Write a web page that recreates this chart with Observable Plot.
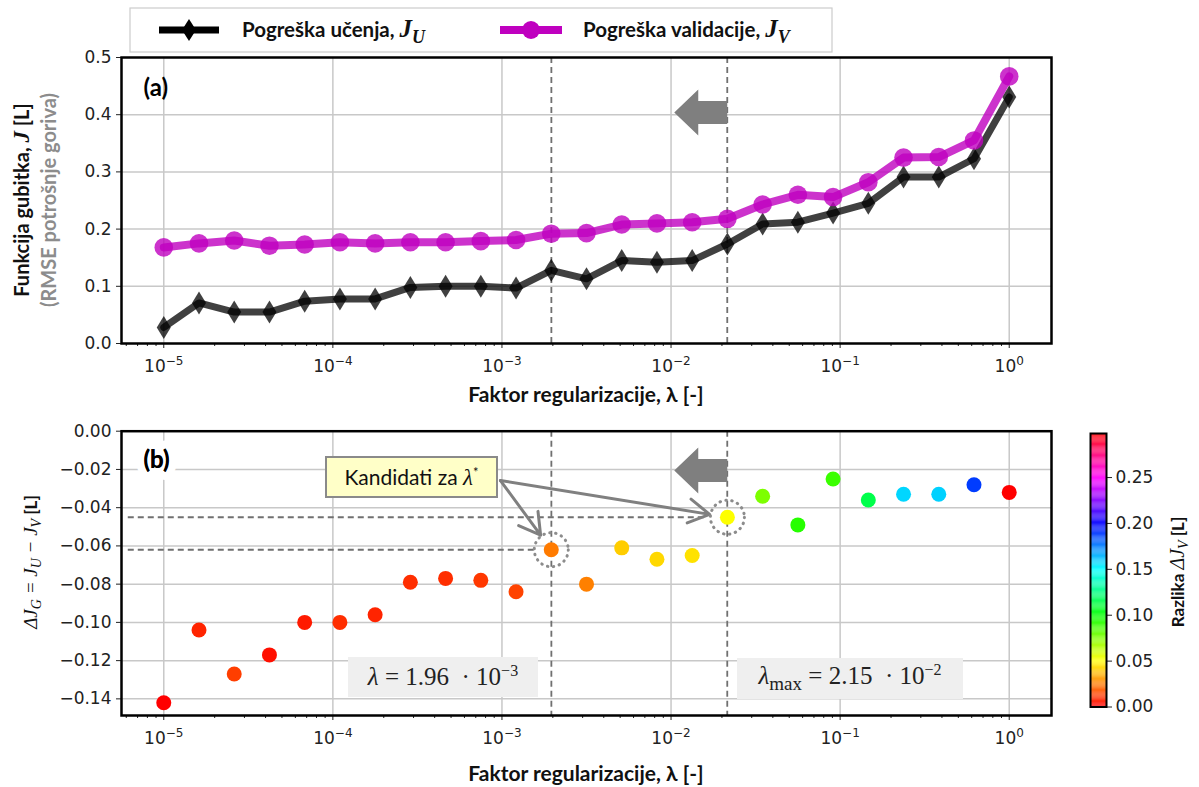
<!DOCTYPE html>
<html><head><meta charset="utf-8">
<script src="https://cdn.jsdelivr.net/npm/d3@7"></script>
<script src="https://cdn.jsdelivr.net/npm/@observablehq/plot@0.6"></script>
<style>
body{margin:0;background:#fff;}
#root{position:relative;width:1199px;height:787px;overflow:hidden;font-family:Lato,sans-serif;}
#root > *{position:absolute;}
.box{display:flex;align-items:center;justify-content:center;box-sizing:border-box;white-space:nowrap;}
.math{font-family:"Liberation Serif",serif;font-style:italic;}
</style></head><body><div id="root"></div>
<script>
// ---- data ----
const lambdas = [1.00e-5,1.6156e-5,2.6102e-5,4.2170e-5,6.8129e-5,1.1007e-4,1.7783e-4,2.8730e-4,4.6416e-4,7.4989e-4,
  1.2115e-3,1.9573e-3,3.1623e-3,5.1090e-3,8.2540e-3,1.3335e-2,2.1544e-2,3.4807e-2,5.6234e-2,9.0851e-2,
  1.4678e-1,2.3714e-1,3.8312e-1,6.1897e-1,1.0];
const jU = [0.028,0.071,0.055,0.055,0.074,0.078,0.078,0.098,0.100,0.100,0.097,0.128,0.113,0.145,0.142,0.145,
  0.174,0.209,0.212,0.228,0.245,0.291,0.291,0.323,0.431];
const jV = [0.168,0.175,0.180,0.171,0.173,0.177,0.175,0.177,0.177,0.179,0.181,0.192,0.193,0.208,0.210,0.212,
  0.218,0.243,0.260,0.256,0.282,0.325,0.326,0.355,0.467];
const dJG = [-0.142,-0.104,-0.127,-0.117,-0.100,-0.100,-0.096,-0.079,-0.077,-0.078,-0.084,-0.062,-0.080,-0.061,
  -0.067,-0.065,-0.045,-0.034,-0.049,-0.025,-0.036,-0.033,-0.033,-0.028,-0.032];
const dJV = [0.000,0.007,0.012,0.003,0.005,0.009,0.007,0.009,0.009,0.011,0.013,0.024,0.025,0.040,0.042,0.044,
  0.050,0.075,0.092,0.088,0.114,0.157,0.158,0.187,0.298];
const candidateIdx = [11, 16];
const candidateLambdas = [1.96e-3, 2.15e-2];
const decades = [1e-5,1e-4,1e-3,1e-2,1e-1,1];
const yTicksA = [0,0.1,0.2,0.3,0.4,0.5];
const yTicksB = [0,-0.02,-0.04,-0.06,-0.08,-0.10,-0.12,-0.14];
const cbTicks = [0,0.05,0.10,0.15,0.20,0.25];
const bigArrowA = [{x:2.15e-2, y:0.404}];
const bigArrowB = [{x:2.15e-2, y:-0.0206}];
const calloutFrom = {x:9.8e-4, y:-0.0258};
const guideStart = 10**-5.21;
const guideEnds = [1.58e-3, 1.6e-2];

// ---- helpers ----
const rows = lambdas.map((l,i)=>({lambda:l, jU:jU[i], jV:jV[i], dJG:dJG[i], dJV:dJV[i]}));
const cand = candidateIdx.map(i=>rows[i]);
const guides = candidateIdx.map((i,k)=>({y:dJG[i], x1:guideStart, x2:guideEnds[k]}));
const callouts = cand.map(r=>({x1:calloutFrom.x, y1:calloutFrom.y, x2:r.lambda, y2:r.dJG}));
const xDomain = [10**-5.25, 10**0.25];
const minorTicks = d3.scaleLog().domain(xDomain).ticks().filter(t=>!decades.some(d=>Math.abs(d-t)/d<1e-9));
const fmtPow = d => "10^" + Math.round(Math.log10(d));
const thinDiamond = {draw(ctx,size){const s=Math.sqrt(size/Math.PI);ctx.moveTo(0,-11.5*s);ctx.lineTo(7*s,0);ctx.lineTo(0,11.5*s);ctx.lineTo(-7*s,0);ctx.closePath();}};
const leftArrow = {draw(ctx,size){const s=Math.sqrt(size/Math.PI);ctx.moveTo(0,-11.5*s);ctx.lineTo(-29*s,-11.5*s);ctx.lineTo(-29*s,-23*s);ctx.lineTo(-53*s,0);ctx.lineTo(-29*s,23*s);ctx.lineTo(-29*s,11.5*s);ctx.lineTo(0,11.5*s);ctx.closePath();}};
const hsv = t => d3.hsl(t*360,1,0.5).formatHex();
const gridStyle = {stroke:"#c8c8c8", strokeOpacity:1, strokeWidth:1.5};
const baseStyle = {fontFamily:"DejaVu Sans", fontSize:"17px", color:"#222", background:"transparent", overflow:"visible"};
const root = document.getElementById("root");
function place(el,left,top){el.style.left=left+"px";el.style.top=top+"px";root.appendChild(el);return el;}
function superscriptTicks(svg){
  d3.select(svg).selectAll('g[aria-label="x-axis tick label"] text').each(function(){
    const s = this.textContent; if (!s.includes("^")) return;
    const [b,e] = s.split("^");
    const t = d3.select(this); t.text(b);
    t.append("tspan").attr("dy","-0.55em").attr("font-size",12).text(e.replace("-","−"));
  });
}

// ---- panel (a) ----
const plotA = Plot.plot({
  width:1199, height:410, marginLeft:121, marginRight:148, marginTop:57, marginBottom:67,
  style:baseStyle,
  x:{type:"log", domain:xDomain},
  y:{domain:[0,0.5]},
  marks:[
    Plot.gridX(decades, gridStyle),
    Plot.gridY([0.1,0.2,0.3,0.4], gridStyle),
    Plot.ruleX(candidateLambdas, {stroke:"#707070", strokeWidth:1.8, strokeDasharray:"6,4"}),
    Plot.line(rows, {x:"lambda", y:"jU", stroke:"black", strokeOpacity:0.75, strokeWidth:7}),
    Plot.dot(rows, {x:"lambda", y:"jU", symbol:thinDiamond, r:1, fill:"black", fillOpacity:0.75}),
    Plot.line(rows, {x:"lambda", y:"jV", stroke:"#bf00bf", strokeOpacity:0.8, strokeWidth:8}),
    Plot.dot(rows, {x:"lambda", y:"jV", r:9.3, fill:"#bf00bf", fillOpacity:0.8}),
    Plot.dot(bigArrowA, {x:"x", y:"y", symbol:leftArrow, r:1, fill:"#7f7f7f"}),
    Plot.axisX(minorTicks, {tickSize:3, tickFormat:()=>"", label:null}),
    Plot.axisX(decades, {tickSize:5, tickPadding:11, tickFormat:fmtPow, label:null}),
    Plot.axisY(yTicksA, {tickSize:5, tickPadding:5, tickFormat:d3.format(".1f"), label:null}),
    Plot.text(["(a)"], {frameAnchor:"top-left", dx:22, dy:21, fontWeight:"bold", fontSize:24, fontFamily:"Lato", fill:"black"}),
    Plot.frame({stroke:"black", strokeWidth:2.5})
  ]
});
superscriptTicks(plotA);
place(plotA,0,0);

// ---- panel (b) ----
const plotB = Plot.plot({
  width:1199, height:377, marginLeft:121, marginRight:148, marginTop:20.7, marginBottom:72,
  style:baseStyle,
  x:{type:"log", domain:xDomain},
  y:{domain:[-0.1487,0]},
  color:{type:"linear", domain:[0,0.298], interpolate:hsv, clamp:true},
  marks:[
    Plot.gridX(decades, gridStyle),
    Plot.gridY(yTicksB.slice(1), gridStyle),
    Plot.ruleY(guides, {y:"y", x1:"x1", x2:"x2", stroke:"#707070", strokeWidth:1.8, strokeDasharray:"6,4"}),
    Plot.ruleX(candidateLambdas, {stroke:"#707070", strokeWidth:1.8, strokeDasharray:"6,4"}),
    Plot.arrow(callouts, {x1:"x1", y1:"y1", x2:"x2", y2:"y2", stroke:"#808080", strokeWidth:3, headLength:12, insetEnd:18}),
    Plot.dot(cand, {x:"lambda", y:"dJG", r:17, stroke:"#8c8c8c", strokeWidth:3, strokeDasharray:"0.5,5.5", strokeLinecap:"round", fill:"none"}),
    Plot.dot(rows, {x:"lambda", y:"dJG", r:7.5, fill:"dJV"}),
    Plot.dot(bigArrowB, {x:"x", y:"y", symbol:leftArrow, r:1, fill:"#7f7f7f"}),
    Plot.axisX(minorTicks, {tickSize:3, tickFormat:()=>"", label:null}),
    Plot.axisX(decades, {tickSize:5, tickPadding:11, tickFormat:fmtPow, label:null}),
    Plot.axisY(yTicksB, {tickSize:5, tickPadding:5, tickFormat:d3.format(".2f"), label:null}),
    Plot.text(["(b)"], {frameAnchor:"top-left", dx:22, dy:20, fontWeight:"bold", fontSize:24, fontFamily:"Lato", fill:"black", stroke:"white", strokeWidth:16}),
    Plot.text(["(b)"], {frameAnchor:"top-left", dx:22, dy:20, fontWeight:"bold", fontSize:24, fontFamily:"Lato", fill:"black"}),
    Plot.frame({stroke:"black", strokeWidth:2.5})
  ]
});
superscriptTicks(plotB);
place(plotB,0,410);

// ---- colorbar ----
const bands = d3.range(0,0.298,0.001).map(v=>({a:v, b:Math.min(v+0.001,0.298)}));
const cb = Plot.plot({
  width:139, height:377, marginLeft:30, marginRight:93, marginTop:23, marginBottom:80.5,
  style:baseStyle,
  y:{domain:[0,0.298]},
  color:{type:"linear", domain:[0,0.298], interpolate:hsv},
  marks:[
    Plot.rect(bands, {y1:"a", y2:"b", fill:"a"}),
    Plot.axisY(cbTicks, {anchor:"right", tickSize:5, tickPadding:4, tickFormat:d3.format(".2f"), label:null}),
    Plot.frame({stroke:"black", strokeWidth:2})
  ]
});
place(cb,1060,410);

// ---- text overlay ----
const ov = d3.create("svg").attr("width",1199).attr("height",787).style("pointer-events","none");
// legend
ov.append("rect").attr("x",130).attr("y",8).attr("width",702).attr("height",44).attr("fill","white").attr("stroke","#cccccc").attr("stroke-width",1.2);
ov.append("line").attr("x1",159).attr("x2",219).attr("y1",30).attr("y2",30).attr("stroke","black").attr("stroke-width",7);
ov.append("path").attr("d","M189,19L196,30L189,41L182,30Z").attr("fill","black");
ov.append("line").attr("x1",500).attr("x2",562).attr("y1",30).attr("y2",30).attr("stroke","#bf00bf").attr("stroke-width",8);
ov.append("circle").attr("cx",531).attr("cy",30).attr("r",9).attr("fill","#bf00bf");
function legendText(x, label, sub){
  const t = ov.append("text").attr("x",x).attr("y",37).attr("font-family","Lato").attr("font-weight","bold").attr("font-size",20.5).attr("fill","#111");
  t.append("tspan").text(label);
  t.append("tspan").attr("font-family","Liberation Serif").attr("font-style","italic").attr("font-size",25).text("J");
  t.append("tspan").attr("font-family","Liberation Serif").attr("font-style","italic").attr("font-size",18).attr("dy",6).text(sub);
}
legendText(242,"Pogreška učenja, ","U");
legendText(583,"Pogreška validacije, ","V");
// y label (a)
const ya = ov.append("text").attr("transform","translate(29,200) rotate(-90)").attr("text-anchor","middle").attr("font-family","Lato").attr("font-weight","bold").attr("font-size",20).attr("fill","#111");
ya.append("tspan").text("Funkcija gubitka, ");
ya.append("tspan").attr("font-family","Liberation Serif").attr("font-style","italic").attr("font-size",23).text("J");
ya.append("tspan").text(" [L]");
ov.append("text").attr("transform","translate(56,200) rotate(-90)").attr("text-anchor","middle").attr("font-family","Lato").attr("font-weight","bold").attr("font-size",20).attr("fill","#8c8c8c").text("(RMSE potrošnje goriva)");
// x labels
for (const y of [402,781]) {
  ov.append("text").attr("x",586).attr("y",y).attr("text-anchor","middle").attr("font-family","Lato").attr("font-weight","bold").attr("font-size",21).attr("fill","#111").text("Faktor regularizacije, λ [-]");
}
// y label (b)
const yb = ov.append("text").attr("transform","translate(37,562) rotate(-90)").attr("text-anchor","middle").attr("font-family","Liberation Serif").attr("font-style","italic").attr("font-size",19).attr("fill","#111");
yb.append("tspan").text("ΔJ");
yb.append("tspan").attr("font-size",14).attr("dy",4).text("G");
yb.append("tspan").attr("dy",-4).text(" = J");
yb.append("tspan").attr("font-size",14).attr("dy",4).text("U");
yb.append("tspan").attr("dy",-4).text(" − J");
yb.append("tspan").attr("font-size",14).attr("dy",4).text("V");
yb.append("tspan").attr("dy",-4).attr("font-family","Lato").attr("font-style","normal").attr("font-weight","bold").attr("font-size",17).text(" [L]");
// colorbar label
const cl = ov.append("text").attr("transform","translate(1184,572) rotate(-90)").attr("text-anchor","middle").attr("font-family","Lato").attr("font-weight","bold").attr("font-size",17).attr("fill","#111");
cl.append("tspan").text("Razlika ");
cl.append("tspan").attr("font-family","Liberation Serif").attr("font-style","italic").attr("font-weight","normal").attr("font-size",20).text("ΔJ");
cl.append("tspan").attr("font-family","Liberation Serif").attr("font-style","italic").attr("font-weight","normal").attr("font-size",14).attr("dy",4).text("V");
cl.append("tspan").attr("dy",-4).text(" [L]");
place(ov.node(),0,0);

// ---- annotation boxes ----
function box(html,left,top,w,h,css){const d=document.createElement("div");d.className="box";d.innerHTML="<span>"+html+"</span>";d.style.width=w+"px";d.style.height=h+"px";Object.assign(d.style,css);return place(d,left,top);}
box('Kandidati za <span class="math" style="font-size:23px">λ</span><sup style="font-size:13px">*</sup>',325,456,173,42,{background:"#ffffc8",border:"2.5px solid #8a8a8a",fontFamily:"Lato",fontSize:"21px",color:"#111"});
box('<span class="math">λ</span> = 1.96 &nbsp;· 10<sup style="font-size:16px">−3</sup>',348,657,190,40,{background:"#efefef",fontFamily:"Liberation Serif",fontSize:"25px",color:"#222"});
box('<span class="math">λ</span><sub style="font-size:19px">max</sub> = 2.15 &nbsp;· 10<sup style="font-size:16px">−2</sup>',737,658,226,41,{background:"#efefef",fontFamily:"Liberation Serif",fontSize:"25px",color:"#222"});
</script></body></html>
